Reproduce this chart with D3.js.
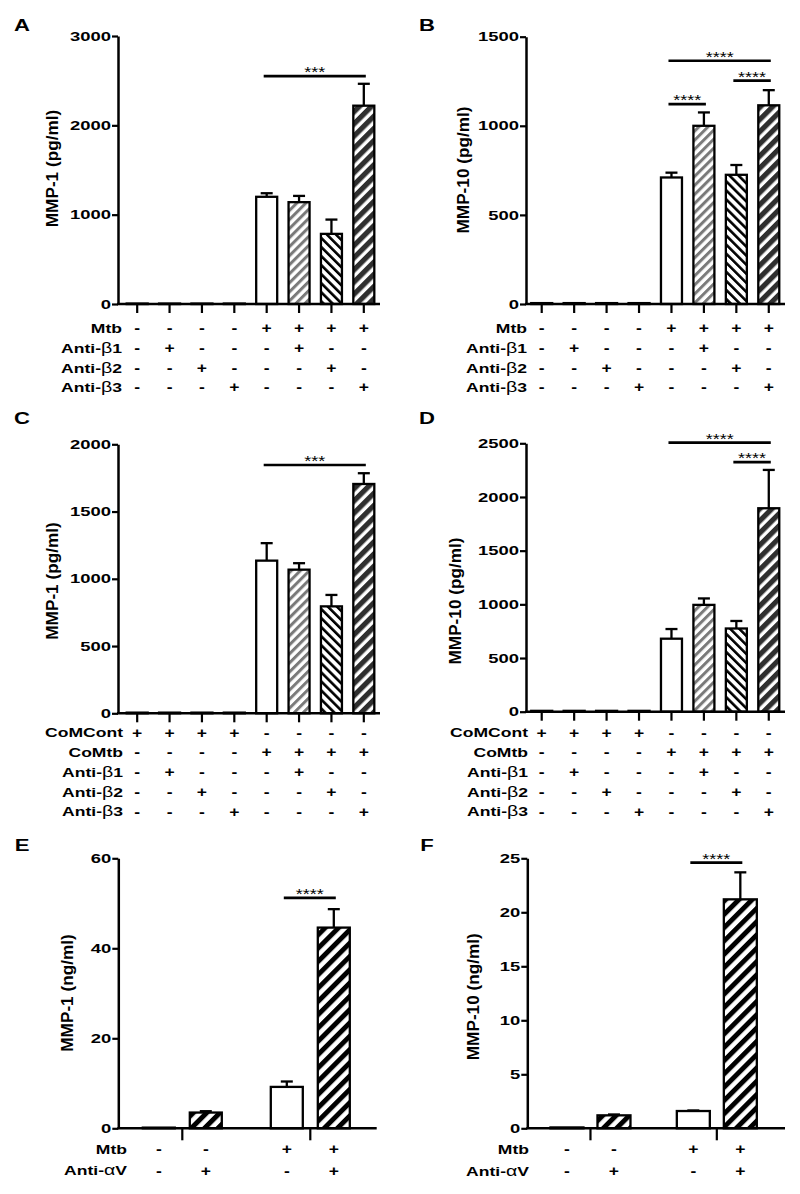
<!DOCTYPE html>
<html><head><meta charset="utf-8">
<script src="https://cdn.jsdelivr.net/npm/d3@7"></script>
<style>
body{margin:0;background:#fff}
svg{display:block}
text{font-family:"Liberation Sans",Arial,Helvetica,sans-serif;fill:#000}
</style>
</head><body>
<svg id="chart" width="800" height="1194"></svg>
<script>
// ---------- categories ----------
const conditions8 = ["Ctrl","Anti-β1","Anti-β2","Anti-β3","Mtb","Mtb+Anti-β1","Mtb+Anti-β2","Mtb+Anti-β3"];
const conditionsCo8 = ["CoMCont","CoMCont+Anti-β1","CoMCont+Anti-β2","CoMCont+Anti-β3","CoMtb","CoMtb+Anti-β1","CoMtb+Anti-β2","CoMtb+Anti-β3"];
const groupsEF = ["Uninfected","Mtb"];
const conditionsEF = ["Ctrl","Anti-αV","Mtb","Mtb+Anti-αV"];

// ---------- sign rows ----------
const mtbRow     = ["-","-","-","-","+","+","+","+"];
const antiB1Row  = ["-","+","-","-","-","+","-","-"];
const antiB2Row  = ["-","-","+","-","-","-","+","-"];
const antiB3Row  = ["-","-","-","+","-","-","-","+"];
const coMContRow = ["+","+","+","+","-","-","-","-"];
const coMtbRow   = ["-","-","-","-","+","+","+","+"];
const mtbRowEF   = ["-","-","+","+"];
const antiAVRow  = ["-","+","-","+"];

// ---------- values (mean, SEM) ----------
const mmp1A  = [5,5,5,5,1200,1140,785,2220];
const semA   = [0,0,0,0,40,70,160,245];
const mmp10B = [5,5,5,5,710,1000,725,1115];
const semB   = [0,0,0,0,27,75,55,85];
const mmp1C  = [5,5,5,5,1135,1068,795,1705];
const semC   = [0,0,0,0,130,48,85,80];
const mmp10D = [8,8,8,8,680,995,775,1895];
const semD   = [0,0,0,0,90,60,70,357];
const mmp1E  = [0.15,3.5,9.2,44.6];
const semE   = [0,0.3,1.2,4.1];
const mmp10F = [0.08,1.2,1.6,21.2];
const semF   = [0,0.08,0.05,2.5];

// ---------- y ticks ----------
const ticksA = [0,1000,2000,3000];
const ticksB = [0,500,1000,1500];
const ticksC = [0,500,1000,1500,2000];
const ticksD = [0,500,1000,1500,2000,2500];
const ticksE = [0,20,40,60];
const ticksF = [0,5,10,15,20,25];

// ---------- significance brackets ----------
const sigA = [{from:4,to:7,level:2550,label:"***"}];
const sigB = [{from:4,to:7,level:1365,label:"****"},{from:6,to:7,level:1253,label:"****"},{from:4,to:5,level:1122,label:"****"}];
const sigC = [{from:4,to:7,level:1846,label:"***"}];
const sigD = [{from:4,to:7,level:2506,label:"****"},{from:6,to:7,level:2324,label:"****"}];
const sigE = [{from:2,to:3,level:51.2,label:"****"}];
const sigF = [{from:2,to:3,level:24.6,label:"****"}];

const svg = d3.select("#chart");
const FONT = '"Liberation Sans",Arial,Helvetica,sans-serif';

// patterns
const defs = svg.append("defs");
function stripes(id, period, width, color, angle){
  const p = defs.append("pattern").attr("id",id).attr("patternUnits","userSpaceOnUse")
    .attr("width",period).attr("height",period).attr("patternTransform",`rotate(${angle})`);
  p.append("rect").attr("width",period).attr("height",period).attr("fill","#fff");
  p.append("rect").attr("x",0).attr("y",0).attr("width",width).attr("height",period).attr("fill",color);
}
stripes("hb1",6.4,3.0,"#7a7a7a",45);
stripes("hb2",6.4,2.6,"#000",-45);
stripes("hb3",8.6,5.2,"#2f2f2f",45);
stripes("hav",9.4,4.9,"#000",45);

const fill8 = i => ["#fff","url(#hb1)","url(#hb2)","url(#hb3)"][i%4];
const fillEF = i => (i%2===0) ? "#fff" : "url(#hav)";

function stext(g, x, y, str, size, weight, sx, anchor){
  return g.append("text").attr("transform",`translate(${x},${y}) scale(${sx},1)`)
    .attr("font-size",size).attr("font-weight",weight).attr("text-anchor",anchor||"middle")
    .attr("dy","0.35em").attr("font-family",FONT).text(str);
}
function rowLabel(g, x, y, str){
  const t = g.append("text").attr("transform",`translate(${x},${y}) scale(1.3,1)`)
    .attr("font-size",13.5).attr("font-weight","bold").attr("text-anchor","end")
    .attr("dy","0.35em").attr("font-family",FONT);
  const m = str.match(/^(.*?)([βα])(.*)$/);
  if(m){
    t.append("tspan").text(m[1]);
    t.append("tspan").attr("font-weight","normal").attr("font-size",15).text(m[2]);
    t.append("tspan").text(m[3]);
  } else t.text(str);
}

function panel(p){
  const g = svg.append("g");
  const y = d3.scaleLinear().domain(p.domain).range([p.y0, p.yTop]);
  let cx, bw = p.bw;
  if(p.grouped){
    const xg = d3.scaleBand().domain(groupsEF).range([p.ax, p.xEnd]).padding(0);
    const xi = d3.scalePoint().domain([0,1]).range([-p.inner, p.inner]);
    cx = i => xg(groupsEF[Math.floor(i/2)]) + xg.bandwidth()/2 + xi(i%2);
    const xa = d3.axisBottom(xg).tickSize(12).tickFormat("");
    const gx = g.append("g").attr("transform",`translate(0,${p.y0})`).call(xa);
    gx.select(".domain").remove();
    gx.selectAll(".tick line").attr("stroke","#000").attr("stroke-width",2.2);
  } else {
    const xb = d3.scaleBand().domain(p.cats).range([p.xStart, p.xEnd]).paddingInner(0.35).paddingOuter(0.175);
    cx = i => xb(p.cats[i]) + xb.bandwidth()/2;
    const xa = d3.axisBottom(xb).tickSize(9).tickFormat("");
    const gx = g.append("g").attr("transform",`translate(0,${p.y0})`).call(xa);
    gx.select(".domain").remove();
    gx.selectAll(".tick line").attr("stroke","#000").attr("stroke-width",2.2);
  }
  // bars
  g.selectAll("rect.bar").data(p.values).join("rect").attr("class","bar")
    .attr("x",(d,i)=>cx(i)-bw/2).attr("width",bw)
    .attr("y",d=>y(d)).attr("height",d=>Math.max(0.5,p.y0-y(d)))
    .attr("fill",(d,i)=>p.fill(i)).attr("stroke","#000").attr("stroke-width",2.3);
  // error bars
  p.values.forEach((v,i)=>{
    const e = p.sem[i]; if(!e) return;
    g.append("line").attr("x1",cx(i)).attr("x2",cx(i)).attr("y1",y(v)).attr("y2",y(v+e)).attr("stroke","#000").attr("stroke-width",2.3);
    g.append("line").attr("x1",cx(i)-6).attr("x2",cx(i)+6).attr("y1",y(v+e)).attr("y2",y(v+e)).attr("stroke","#000").attr("stroke-width",2.3);
  });
  // x axis line
  g.append("line").attr("x1",p.ax-1).attr("x2",p.axisEnd).attr("y1",p.y0).attr("y2",p.y0).attr("stroke","#000").attr("stroke-width",2.5);
  // y axis
  const ya = d3.axisLeft(y).tickValues(p.ticks).tickSize(6).tickSizeOuter(0).tickPadding(1).tickFormat(d3.format("d"));
  const gy = g.append("g").attr("transform",`translate(${p.ax},0)`).call(ya);
  gy.select(".domain").attr("stroke","#000").attr("stroke-width",2.5);
  gy.selectAll(".tick line").attr("stroke","#000").attr("stroke-width",2.2);
  gy.selectAll(".tick text").attr("font-family",FONT).attr("font-size",13).attr("font-weight","bold")
    .attr("fill","#000").attr("x",-7/1.42).attr("transform","scale(1.42,1)");
  // y title
  g.append("text").attr("transform",`translate(${p.tx},${p.ty}) rotate(-90)`)
    .attr("text-anchor","middle").attr("dy","0.35em").attr("font-size",17.2).attr("font-weight","bold")
    .attr("font-family",FONT).text(p.title);
  // panel letter
  stext(g, p.lx, p.ly, p.letter, 17, "bold", 1.3);
  // sig brackets
  p.sig.forEach(s=>{
    const x1 = cx(s.from)-3, x2 = cx(s.to)+2, yy = y(s.level);
    g.append("line").attr("x1",x1).attr("x2",x2).attr("y1",yy).attr("y2",yy).attr("stroke","#000").attr("stroke-width",2.7);
    g.append("text").attr("transform",`translate(${(x1+x2)/2},${yy+1}) scale(1.2,1)`)
      .attr("text-anchor","middle").attr("font-size",15).attr("font-family",FONT).text(s.label);
  });
  // sign rows
  p.rows.forEach((r,ri)=>{
    const yy = p.rowY[ri];
    rowLabel(g, p.rowX, yy, r[0]);
    r[1].forEach((s,i)=>{
      stext(g, cx(i), yy, s, 14, "bold", 1.25);
    });
  });
}

panel({letter:"A",lx:22,ly:25,ax:118,y0:304,yTop:36,xStart:121,xEnd:380,axisEnd:380,bw:21,
  cats:conditions8,values:mmp1A,sem:semA,domain:[0,3000],ticks:ticksA,fill:fill8,sig:sigA,
  title:"MMP-1 (pg/ml)",tx:52,ty:168.5,rowX:122,rowY:[328,348,368,387.5],
  rows:[["Mtb",mtbRow],["Anti-β1",antiB1Row],["Anti-β2",antiB2Row],["Anti-β3",antiB3Row]]});

panel({letter:"B",lx:427,ly:25,ax:526,y0:304,yTop:36.7,xStart:525.5,xEnd:785,axisEnd:785,bw:21,
  cats:conditions8,values:mmp10B,sem:semB,domain:[0,1500],ticks:ticksB,fill:fill8,sig:sigB,
  title:"MMP-10 (pg/ml)",tx:463,ty:170,rowX:527,rowY:[328,348,368,387.5],
  rows:[["Mtb",mtbRow],["Anti-β1",antiB1Row],["Anti-β2",antiB2Row],["Anti-β3",antiB3Row]]});

panel({letter:"C",lx:22,ly:418,ax:118,y0:713.3,yTop:444.3,xStart:121,xEnd:380,axisEnd:380,bw:21,
  cats:conditionsCo8,values:mmp1C,sem:semC,domain:[0,2000],ticks:ticksC,fill:fill8,sig:sigC,
  title:"MMP-1 (pg/ml)",tx:52,ty:581,rowX:123,rowY:[732.7,752.5,772.2,792,811.7],
  rows:[["CoMCont",coMContRow],["CoMtb",coMtbRow],["Anti-β1",antiB1Row],["Anti-β2",antiB2Row],["Anti-β3",antiB3Row]]});

panel({letter:"D",lx:427,ly:418,ax:526,y0:711.7,yTop:443.3,xStart:525.5,xEnd:785,axisEnd:785,bw:21,
  cats:conditionsCo8,values:mmp10D,sem:semD,domain:[0,2500],ticks:ticksD,fill:fill8,sig:sigD,
  title:"MMP-10 (pg/ml)",tx:455,ty:601,rowX:528,rowY:[732.7,752.5,772.2,792,811.7],
  rows:[["CoMCont",coMContRow],["CoMtb",coMtbRow],["Anti-β1",antiB1Row],["Anti-β2",antiB2Row],["Anti-β3",antiB3Row]]});

panel({letter:"E",lx:22,ly:845,ax:118.3,y0:1128.3,yTop:858.3,grouped:true,xEnd:374.3,axisEnd:376.7,bw:32,inner:23.5,
  values:mmp1E,sem:semE,domain:[0,60],ticks:ticksE,fill:fillEF,sig:sigE,
  title:"MMP-1 (ng/ml)",tx:66.7,ty:993,rowX:127,rowY:[1149.3,1170.7],
  rows:[["Mtb",mtbRowEF],["Anti-αV",antiAVRow]]});

panel({letter:"F",lx:427,ly:845,ax:527.3,y0:1128.3,yTop:858.3,grouped:true,xEnd:780,axisEnd:785,bw:33,inner:23.5,
  values:mmp10F,sem:semF,domain:[0,25],ticks:ticksF,fill:fillEF,sig:sigF,
  title:"MMP-10 (ng/ml)",tx:473.3,ty:996.7,rowX:529,rowY:[1149.3,1171.5],
  rows:[["Mtb",mtbRowEF],["Anti-αV",antiAVRow]]});
</script>
</body></html>
